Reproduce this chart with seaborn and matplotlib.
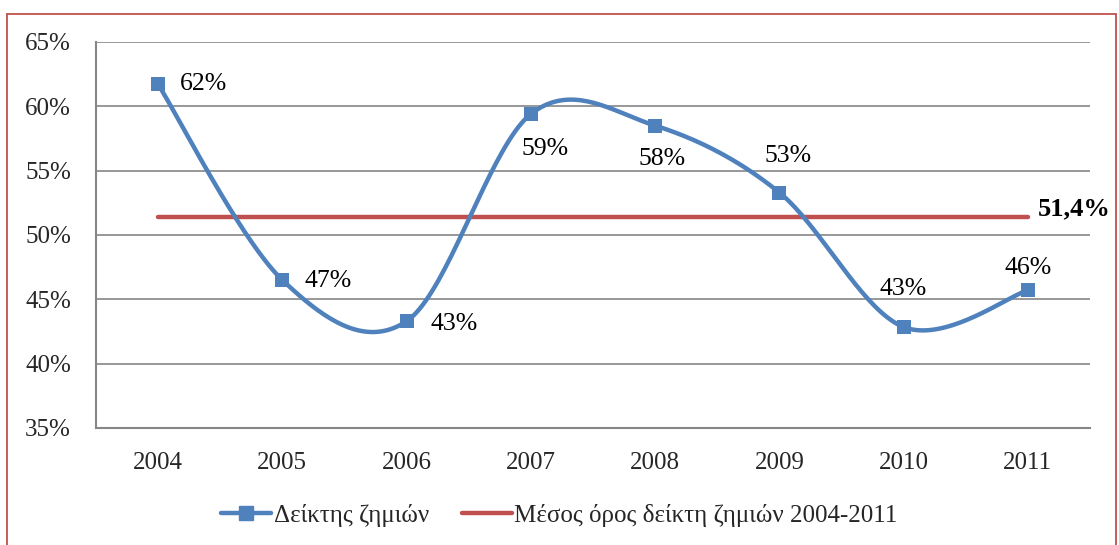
import numpy as np
import matplotlib
matplotlib.use('Agg')
import matplotlib.pyplot as plt
from matplotlib.lines import Line2D
from matplotlib.patches import Rectangle
import seaborn as sns

# Δεδομένα
years = ['2004', '2005', '2006', '2007', '2008', '2009', '2010', '2011']
loss_ratio = [61.7, 46.5, 43.3, 59.4, 58.5, 53.3, 42.85, 45.7]
point_labels = ['62%', '47%', '43%', '59%', '58%', '53%', '43%', '46%']
mean_ratio = 51.4
mean_label = '51,4%'
series_name = 'Δείκτης ζημιών'
mean_name = 'Μέσος όρος δείκτη ζημιών 2004-2011'

blue = '#4F81BD'
red = '#C0504D'
grid_gray = '#868686'

sns.set_style('white')
plt.rcParams['font.family'] = ['Liberation Serif', 'DejaVu Serif']


# Ομαλή καμπύλη τύπου Excel (Catmull-Rom / Bezier)
def smooth_curve(x, y, n=40):
    x = np.asarray(x, float)
    y = np.asarray(y, float)
    px = np.concatenate([[x[0]], x, [x[-1]]])
    py = np.concatenate([[y[0]], y, [y[-1]]])
    xs, ys = [], []
    t = np.linspace(0, 1, n)
    for i in range(1, len(px) - 2):
        p0 = np.array([px[i], py[i]])
        p3 = np.array([px[i + 1], py[i + 1]])
        c1 = p0 + (np.array([px[i + 1], py[i + 1]]) - np.array([px[i - 1], py[i - 1]])) / 6
        c2 = p3 - (np.array([px[i + 2], py[i + 2]]) - np.array([px[i], py[i]])) / 6
        b = ((1 - t) ** 3)[:, None] * p0 + (3 * (1 - t) ** 2 * t)[:, None] * c1 \
            + (3 * (1 - t) * t ** 2)[:, None] * c2 + (t ** 3)[:, None] * p3
        xs.extend(b[:, 0])
        ys.extend(b[:, 1])
    return np.array(xs), np.array(ys)


pos = np.arange(len(years))
sx, sy = smooth_curve(pos, loss_ratio)

fig = plt.figure(figsize=(11.19, 5.45), dpi=100)
ax = fig.add_axes([0.0858, 0.2147, 0.974 - 0.0858, 0.923 - 0.2147])

for v in range(35, 66, 5):
    ax.axhline(v, color=grid_gray, lw=1.2, zorder=0)

sns.lineplot(x=[pos[0], pos[-1]], y=[mean_ratio, mean_ratio], color=red, lw=3.2,
             solid_capstyle='round', ax=ax, zorder=2)
sns.lineplot(x=sx, y=sy, sort=False, color=blue, lw=3.2, ax=ax, zorder=3)
sns.scatterplot(x=pos, y=loss_ratio, marker='s', s=110, color=blue, edgecolor=blue,
                linewidth=0, ax=ax, zorder=4)

# Ετικέτες τιμών (μετατόπιση σε points)
offsets = [(16, 0, 'left', 'center'), (16, -1, 'left', 'center'), (17, -2, 'left', 'center'),
           (10, -25, 'center', 'center'), (5, -24, 'center', 'center'), (6, 26, 'center', 'center'),
           (0, 27, 'center', 'center'), (0, 16, 'center', 'center')]
for i, (lab, (dx, dy, ha, va)) in enumerate(zip(point_labels, offsets)):
    ax.annotate(lab, (pos[i], loss_ratio[i]), xytext=(dx, dy), textcoords='offset points',
                ha=ha, va=va, fontsize=18.5, color='black')
ax.annotate(mean_label, (pos[-1], mean_ratio), xytext=(7, 6), textcoords='offset points',
            ha='left', va='center', fontsize=19, fontweight='bold', color='black')

ax.set_xlim(-0.5, len(years) - 0.5)
ax.set_ylim(35, 65)
ax.set_xticks(pos)
ax.set_xticklabels(years)
ax.set_xticks(np.arange(-0.5, len(years), 1), minor=True)
ax.tick_params(axis='x', which='major', length=0, pad=17, labelsize=18)
ax.tick_params(axis='x', which='minor', length=6, width=1.2, color=grid_gray, direction='out')
ax.set_yticks(range(35, 66, 5))
ax.set_yticklabels([f'{v}%' for v in range(35, 66, 5)])
ax.tick_params(axis='y', length=6, width=1.2, color=grid_gray, direction='out', pad=12, labelsize=18)
ax.set_xlabel('')
ax.set_ylabel('')

for side in ['top', 'right']:
    ax.spines[side].set_visible(False)
for side in ['left', 'bottom']:
    ax.spines[side].set_color(grid_gray)
    ax.spines[side].set_linewidth(1.5)

handles = [Line2D([], [], color=blue, lw=3.2, marker='s', markersize=10),
           Line2D([], [], color=red, lw=3.2, solid_capstyle='round')]
fig.legend(handles, [series_name, mean_name], loc='center', bbox_to_anchor=(0.5, 0.055),
           ncol=2, frameon=False, fontsize=18, handlelength=2.0, handletextpad=0.1,
           columnspacing=1.3)

# Κόκκινο πλαίσιο γύρω από το γράφημα
fig.patches.append(Rectangle((7 / 1119, -0.02), (1116 - 7) / 1119, 1.02 - 14 / 545,
                             transform=fig.transFigure, fill=False, edgecolor=red,
                             lw=1.3, zorder=10))

fig.savefig('out.png', dpi=100)
